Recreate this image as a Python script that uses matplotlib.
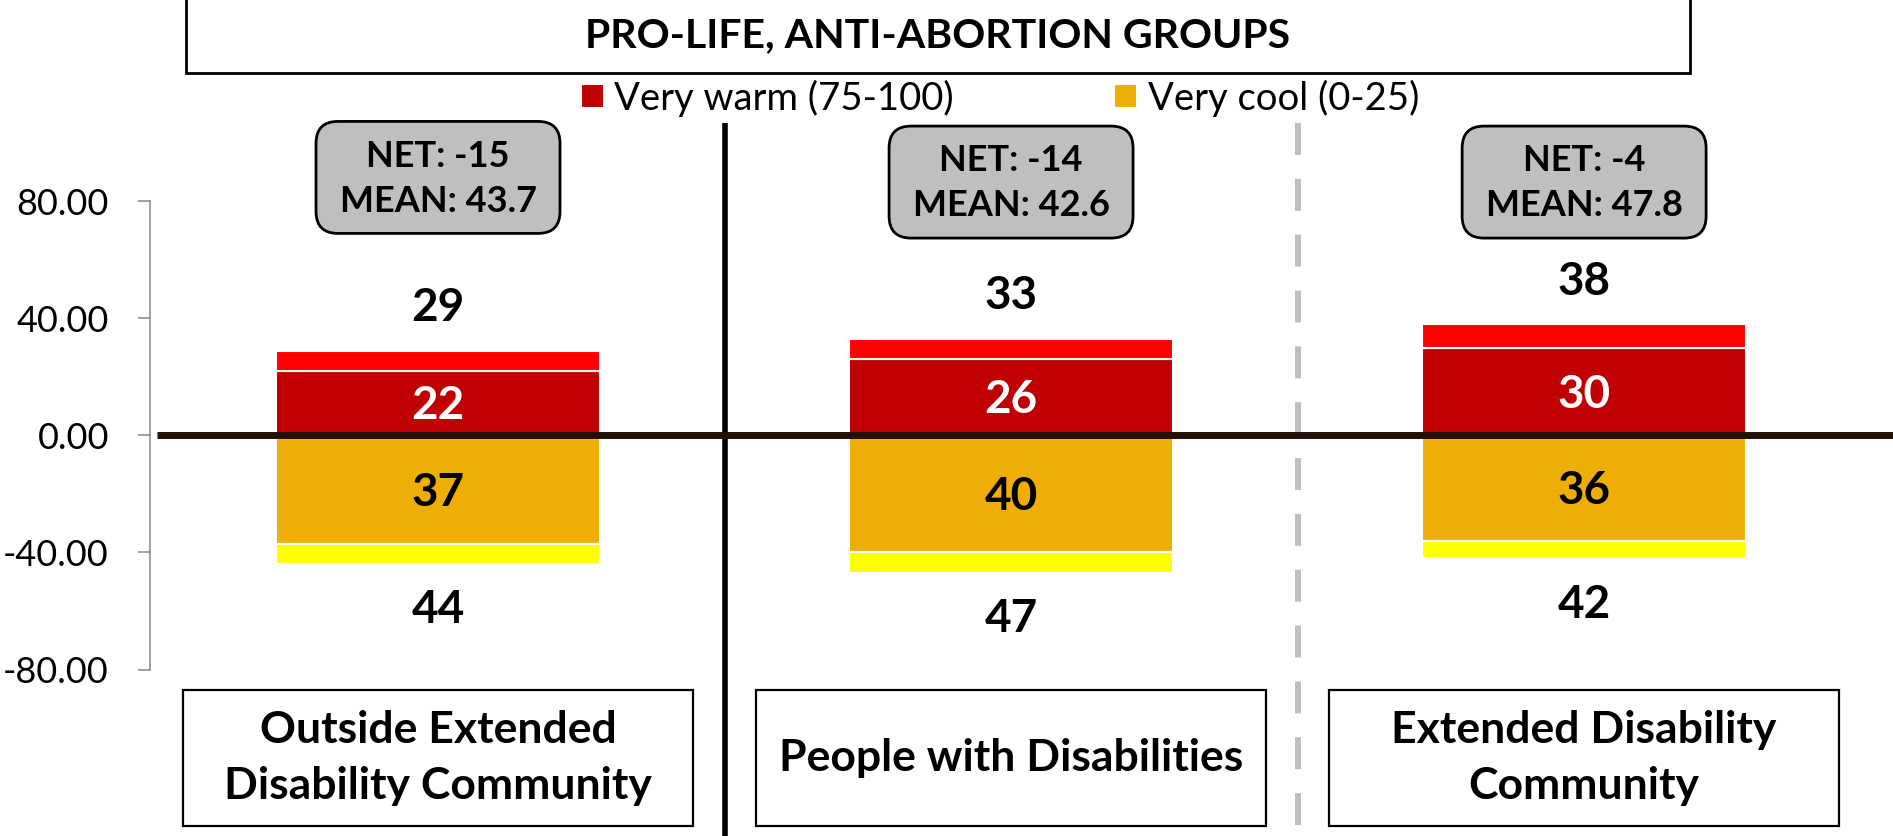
import matplotlib.pyplot as plt
import matplotlib.patches as mpatches
import matplotlib.transforms as mtransforms

# values
categories = ['Outside Extended\nDisability Community',
              'People with Disabilities',
              'Extended Disability\nCommunity']
very_warm = [22, 26, 30]
warm_total = [29, 33, 38]
very_cool = [37, 40, 36]
cool_total = [44, 47, 42]
net = [-15, -14, -4]
mean = [43.7, 42.6, 47.8]
yticks = [-80, -40, 0, 40, 80]
title = 'PRO-LIFE, ANTI-ABORTION GROUPS'

W, H = 1893, 836
plt.rcParams['font.family'] = ['Lato', 'DejaVu Sans']

fig = plt.figure(figsize=(W / 100, H / 100), dpi=100)
# pixel coordinates (origin bottom left) -> display
pxT = mtransforms.Affine2D().scale(1 / fig.dpi) + fig.dpi_scale_trans

ax = fig.add_axes([150 / W, 0, 1 - 150 / W, 1 - 122.7 / H])
ax.set_xlim(-0.5026, 2.539)
ax.set_ylim(-136.9, 106.9)

x = list(range(len(categories)))
bw = 0.565
warm_extra = [t - v for t, v in zip(warm_total, very_warm)]
cool_extra = [t - v for t, v in zip(cool_total, very_cool)]
neg_very_cool = [-v for v in very_cool]
neg_cool_extra = [-v for v in cool_extra]

b1 = ax.bar(x, very_warm, bw, color='#C00000', edgecolor='white', lw=1.5,
            label='Very warm (75-100)', zorder=2)
ax.bar(x, warm_extra, bw, bottom=very_warm, color='#FF0000', edgecolor='white',
       lw=1.5, zorder=2)
b2 = ax.bar(x, neg_very_cool, bw, color='#EFAE06', edgecolor='white', lw=1.5,
            label='Very cool (0-25)', zorder=2)
ax.bar(x, neg_cool_extra, bw, bottom=neg_very_cool, color='#FFFF00',
       edgecolor='white', lw=1.5, zorder=2)

# zero line and separators
ax.hlines(0, -0.49, 2.54, color='#231005', lw=5, zorder=3)
ax.plot([0.5, 0.5], [106.9, -136.9], color='black', lw=4, zorder=1,
        solid_capstyle='butt')
ax.plot([1.5, 1.5], [106.9, -136.9], color='#BFBFBF', lw=4.3, zorder=1,
        linestyle=(0, (5.35, 4.0)), dash_capstyle='butt')

# y axis
for s in ['top', 'right', 'bottom']:
    ax.spines[s].set_visible(False)
ax.spines['left'].set_bounds(-80, 80)
ax.spines['left'].set_color('#868686')
ax.spines['left'].set_linewidth(1.1)
ax.set_yticks(yticks)
ax.set_yticklabels([f'{v:.2f}' for v in yticks])
ax.tick_params(axis='y', length=8.6, width=1.1, color='#868686', pad=21,
               labelsize=26)
ax.set_xticks([])
ax.patch.set_visible(False)

# the first NET box sits a touch higher than the other two
box_y = [88.2, 86.6, 86.6]

for i in x:
    ax.text(i, warm_total[i] + 14.5, str(warm_total[i]), ha='center',
            va='center', fontsize=33, fontweight='bold', zorder=4)
    ax.text(i, very_warm[i] / 2 - 1, str(very_warm[i]), ha='center',
            va='center', fontsize=33, fontweight='bold', color='white',
            zorder=4)
    ax.text(i, -very_cool[i] / 2 - 1, str(very_cool[i]), ha='center',
            va='center', fontsize=33, fontweight='bold', zorder=4)
    ax.text(i, -cool_total[i] - 15.8, str(cool_total[i]), ha='center',
            va='center', fontsize=33, fontweight='bold', zorder=4)

    # NET / MEAN box
    cx, cy = ax.transData.transform((i, box_y[i]))
    ax.add_patch(mpatches.FancyBboxPatch(
        (cx - 122, cy - 56), 244, 112,
        boxstyle='round,pad=0,rounding_size=22', transform=pxT,
        facecolor='#BFBFBF', edgecolor='black', lw=2, clip_on=False,
        zorder=4))
    ax.text(i, box_y[i] - 0.4, f'NET: {net[i]}\nMEAN: {mean[i]}',
            ha='center', va='center', fontsize=26, fontweight='bold',
            linespacing=1.45, zorder=5, clip_on=False)

    # category box
    ax.add_patch(mpatches.Rectangle((i - 0.445, -133.5), 0.89, 46.5,
                                    facecolor='white', edgecolor='black',
                                    lw=1.6, clip_on=False, zorder=4))
    ax.text(i, -110.3, categories[i], ha='center', va='center', fontsize=32,
            fontweight='bold', linespacing=1.5, zorder=5)

# title box
fig.add_artist(mpatches.Rectangle((186, H - 73), 1504, 100, transform=pxT,
                                  facecolor='white', edgecolor='black', lw=2))
fig.text(938 / W, 1 - 36 / H, title, ha='center', va='center', fontsize=29.5,
         fontweight='bold')

fig.legend(handles=[b1, b2], loc='center', bbox_to_anchor=(1000 / W, 1 - 98 / H),
           ncol=2, frameon=False, fontsize=27.5, handlelength=0.6,
           handleheight=0.6, handletextpad=0.28, columnspacing=4.2,
           borderpad=0, borderaxespad=0)

fig.savefig('out.png', dpi=100)
